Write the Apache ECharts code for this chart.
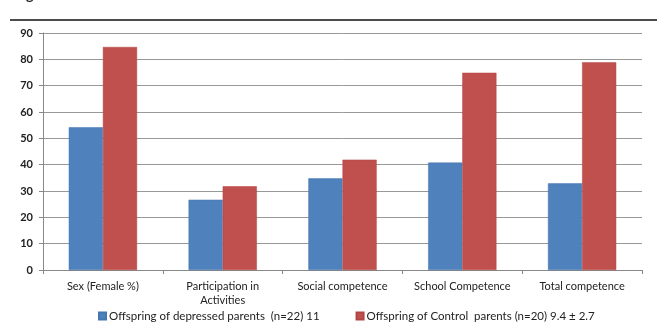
<!DOCTYPE html>
<html>
<head>
<meta charset="utf-8">
<script src="https://cdn.jsdelivr.net/npm/echarts@6/dist/echarts.min.js"></script>
<style>
  html, body { margin: 0; padding: 0; background: #fff; }
  #barchart { width: 657px; height: 326px; }
</style>
</head>
<body>
<div id="barchart"></div>
<script>
var categories = ['Sex (Female %)', 'Participation in\nActivities', 'Social competence', 'School Competence', 'Total competence'];
var depressed = [54.2, 26.7, 34.8, 40.8, 32.9];
var control = [84.7, 31.8, 41.9, 74.9, 78.9];
var seriesNames = ['Offspring of depressed parents  (n=22) 11', 'Offspring of Control  parents (n=20) 9.4 \u00b1 2.7'];

var chartDom = document.getElementById('barchart');
var myChart = echarts.init(chartDom);
var option;

var font = 'Lato, "Open Sans", sans-serif';

option = {
    animation: false,
    textStyle: { fontFamily: font },
    graphic: [
        // header rule and clipped letter from the page above
        { type: 'line', shape: { x1: 10, y1: 20, x2: 657, y2: 20 }, style: { stroke: '#111', lineWidth: 1.5 } },
        { type: 'text', left: 26, top: -12, style: { text: 'g', fontSize: 14, fontWeight: 'bold', fill: '#222', fontFamily: font } }
    ],
    legend: {
        left: 93,
        top: 305,
        itemWidth: 7,
        itemHeight: 7,
        itemGap: 36,
        icon: 'rect',
        textStyle: { fontSize: 11.5, color: '#222', fontFamily: font, padding: [0, 0, 0, -2] }
    },
    grid: { left: 43, right: 15, top: 33, bottom: 56 },
    xAxis: {
        type: 'category',
        data: categories,
        axisLine: { lineStyle: { color: '#888' } },
        axisTick: { show: true, length: 4, lineStyle: { color: '#888' } },
        axisLabel: { fontSize: 11, color: '#222', margin: 9, lineHeight: 14, interval: 0 }
    },
    yAxis: {
        type: 'value',
        min: 0,
        max: 90,
        interval: 10,
        axisLine: { show: true, lineStyle: { color: '#888' } },
        axisTick: { show: true, length: 4, lineStyle: { color: '#888' } },
        axisLabel: { fontSize: 11, color: '#222', fontWeight: 'bold', margin: 10 },
        splitLine: { lineStyle: { color: '#999' } }
    },
    series: [
        {
            name: seriesNames[0],
            type: 'bar',
            data: depressed,
            barGap: '0%',
            barCategoryGap: '43%',
            itemStyle: { color: '#4F81BD', borderColor: '#4577B0', borderWidth: 0.5 }
        },
        {
            name: seriesNames[1],
            type: 'bar',
            data: control,
            itemStyle: { color: '#C0504D', borderColor: '#B04643', borderWidth: 0.5 }
        }
    ]
};

option && myChart.setOption(option);
</script>
</body>
</html>
